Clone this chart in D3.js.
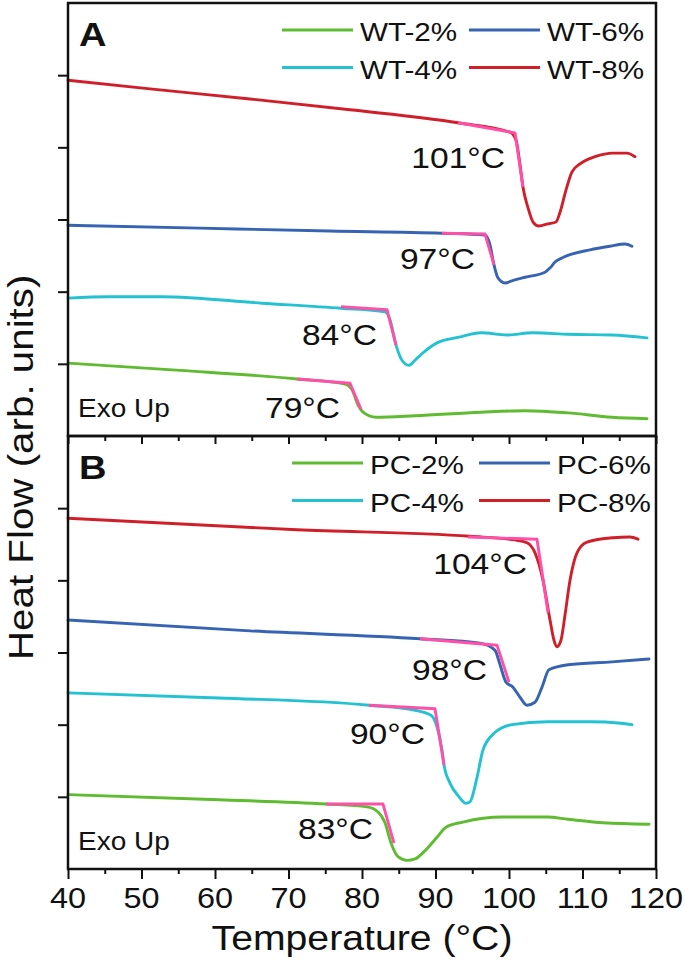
<!DOCTYPE html>
<html><head><meta charset="utf-8">
<script src="https://cdn.jsdelivr.net/npm/d3@7"></script>
<style>
html,body{margin:0;padding:0;background:#fff;}
svg{display:block;}
text{font-family:"Liberation Sans", Arial, Helvetica, sans-serif;fill:#111;}
</style></head><body>
<svg id="chart" width="685" height="965"></svg>
<script>
// ---------- data ----------
const xTicks = [40, 50, 60, 70, 80, 90, 100, 110, 120];
const xMinorTicks = [45, 55, 65, 75, 85, 95, 105, 115];
const yTicks = [1, 2, 3, 4, 5];
const xTitle = "Temperature (°C)";
const yTitle = "Heat Flow (arb. units)";
const panelLetters = ["A", "B"];
const exoLabel = "Exo Up";

const wtNames = ["WT-2%", "WT-4%", "WT-6%", "WT-8%"];
const pcNames = ["PC-2%", "PC-4%", "PC-6%", "PC-8%"];
const wtOnsets = ["79°C", "84°C", "97°C", "101°C"];
const pcOnsets = ["83°C", "90°C", "98°C", "104°C"];

// [temperature °C, heat flow (arb.)]
const wt2 = [[40,1.01],[55.24,0.91],[71.16,0.79],[77.69,0.72],[78.64,0.64],[79.46,0.43],[80.27,0.32],[81.9,0.26],[87.21,0.28],[96.19,0.33],[102.18,0.35],[108.03,0.32],[114.01,0.26],[118.78,0.24]];
const wt4 = [[40,1.91],[45.58,1.93],[52.79,1.93],[66.39,1.84],[77.14,1.77],[83.13,1.72],[83.81,1.61],[84.63,1.26],[85.44,1.05],[86.39,0.98],[87.21,1.05],[88.16,1.14],[90.2,1.29],[93.2,1.37],[96.19,1.43],[99.73,1.40],[103.27,1.43],[108.03,1.41],[114.01,1.40],[118.78,1.36]];
const wt6 = [[40,2.92],[57.96,2.88],[75.65,2.84],[90.88,2.81],[96.73,2.785],[97.41,2.65],[97.96,2.37],[98.5,2.19],[99.46,2.12],[100.4,2.15],[102.18,2.20],[104.9,2.27],[105.6,2.33],[106.26,2.41],[107.48,2.48],[111.02,2.58],[113.74,2.63],[115.78,2.66],[116.73,2.63]];
const wt8 = [[40,4.93],[51.16,4.81],[64.76,4.67],[78.37,4.52],[93.06,4.34],[100.14,4.21],[100.95,4.10],[101.5,3.755],[101.9,3.45],[102.59,3.16],[103.27,2.965],[104.08,2.91],[105.31,2.94],[106.39,2.965],[106.94,3.10],[107.76,3.41],[108.57,3.66],[109.66,3.77],[111.7,3.87],[114.15,3.92],[116.05,3.92],[117.14,3.87]];

const pc2 = [[40,1.03],[60.54,0.96],[75.1,0.90],[80.68,0.86],[82.18,0.79],[83.13,0.64],[83.95,0.36],[84.9,0.17],[86.12,0.12],[87.21,0.14],[88.44,0.24],[90.2,0.44],[91.43,0.58],[93.74,0.65],[99.18,0.72],[105.17,0.72],[108.03,0.69],[112.79,0.64],[119.05,0.62]];
const pc4 = [[40,2.44],[60.54,2.37],[80.95,2.27],[87.21,2.20],[89.39,2.13],[90.2,1.97],[90.88,1.65],[91.16,1.44],[91.97,1.19],[93.2,1.00],[94.15,0.91],[94.69,0.93],[95.65,1.27],[96.46,1.65],[97.96,1.88],[100.41,2.00],[105.17,2.04],[111.02,2.04],[115.24,2.02],[116.73,2.00]];
const pc6 = [[40,3.45],[64.76,3.30],[87.89,3.19],[96.05,3.13],[98.1,3.03],[98.78,2.83],[99.59,2.59],[100.54,2.52],[101.5,2.38],[102.45,2.27],[103.54,2.31],[104.49,2.52],[105.44,2.76],[108.03,2.83],[114.01,2.87],[119.05,2.91]];
const pc8 = [[40,4.86],[71.16,4.70],[94.69,4.61],[100.82,4.56],[102.45,4.52],[103.54,4.38],[104.63,4.00],[105.58,3.45],[106.12,3.17],[106.53,3.08],[107.07,3.17],[107.62,3.52],[108.3,4.00],[109.25,4.38],[110.61,4.53],[114.15,4.59],[116.46,4.60],[117.55,4.57]];

// onset tangent constructions: baseline start, intersection, tangent end
const wt2Tan = [[71.16,0.79],[78.37,0.73],[79.86,0.37]];
const wt4Tan = [[77.14,1.79],[83.4,1.75],[84.63,1.26]];
const wt6Tan = [[90.88,2.81],[96.73,2.80],[97.96,2.37]];
const wt8Tan = [[93.06,4.34],[100.82,4.20],[101.9,3.45]];
const pc2Tan = [[75.1,0.90],[82.86,0.90],[84.35,0.36]];
const pc4Tan = [[80.95,2.27],[89.93,2.22],[91.16,1.44]];
const pc6Tan = [[87.89,3.19],[98.37,3.10],[100.0,2.59]];
const pc8Tan = [[94.42,4.60],[103.81,4.57],[105.31,3.55]];

// ---------- styles ----------
const seriesColors = ["#5fbb30", "#22c2d2", "#3763b3", "#d11f2a"];
const tangentColor = "#ff4fa8";
const sx = 1.12; // horizontal text stretch

// ---------- layout ----------
const svg = d3.select("#chart");
const left = 68, right = 656, panelH = 433;
const panelTops = [3, 436];
const x = d3.scaleLinear().domain([40, 120]).range([left, right]);

const panels = [
  {names: wtNames, series: [wt2, wt4, wt6, wt8], tans: [wt2Tan, wt4Tan, wt6Tan, wt8Tan], onsets: wtOnsets, legX: 282},
  {names: pcNames, series: [pc2, pc4, pc6, pc8], tans: [pc2Tan, pc4Tan, pc6Tan, pc8Tan], onsets: pcOnsets, legX: 292}
];

function stretchedText(g, px, py, str, size, anchor, weight, extra) {
  const gg = g.append("g").attr("transform", `translate(${px},${py})${extra || ""} scale(${sx},1)`);
  return gg.append("text").attr("x", 0).attr("y", 0)
    .attr("font-size", size).attr("text-anchor", anchor || "start")
    .attr("font-weight", weight || "normal").text(str);
}

panels.forEach((p, pi) => {
  const top = panelTops[pi];
  const y = d3.scaleLinear().domain([0, 6]).range([top + panelH, top]);
  const g = svg.append("g");
  const isBottom = pi === panels.length - 1;

  // bottom axis major/minor ticks (outward)
  const ax = g.append("g").attr("transform", `translate(0,${top + panelH})`)
    .call(d3.axisBottom(x).tickValues(xTicks).tickSize(isBottom ? 10 : 8).tickFormat(""));
  ax.select(".domain").remove();
  ax.selectAll("line").attr("stroke", "#111").attr("stroke-width", 2);
  const axm = g.append("g").attr("transform", `translate(0,${top + panelH})`)
    .call(d3.axisBottom(x).tickValues(xMinorTicks).tickSize(5).tickFormat(""));
  axm.select(".domain").remove();
  axm.selectAll("line").attr("stroke", "#111").attr("stroke-width", 2);

  if (isBottom) {
    xTicks.forEach(t => {
      stretchedText(g, x(t), top + panelH + 39, String(t), 29, "middle");
    });
  }

  // left axis ticks (outward)
  const ay = g.append("g").attr("transform", `translate(${left},0)`)
    .call(d3.axisLeft(y).tickValues(yTicks).tickSize(10).tickFormat(""));
  ay.select(".domain").remove();
  ay.selectAll("line").attr("stroke", "#111").attr("stroke-width", 2);

  // curves
  const line = d3.line().x(d => x(d[0])).y(d => y(d[1])).curve(d3.curveMonotoneX);
  p.series.forEach((s, i) => {
    g.append("path").datum(s).attr("d", line).attr("fill", "none")
      .attr("stroke", seriesColors[i]).attr("stroke-width", 2.9)
      .attr("stroke-linejoin", "round").attr("stroke-linecap", "round");
  });
  const tline = d3.line().x(d => x(d[0])).y(d => y(d[1]));
  p.tans.forEach((t) => {
    g.append("path").datum(t).attr("d", tline).attr("fill", "none")
      .attr("stroke", tangentColor).attr("stroke-width", 2.9)
      .attr("stroke-linejoin", "round");
  });
  // onset labels anchored to the tangent intersection
  p.tans.forEach((t, i) => {
    stretchedText(g, x(t[1][0]) - 10, y(t[1][1]) + 35, p.onsets[i], 30, "end");
  });

  // legend: column-major 2x2
  p.names.forEach((n, i) => {
    const col = Math.floor(i / 2), row = i % 2;
    const lx = p.legX + col * 187;
    const ly = top + (row === 0 ? 27 : 64.5);
    g.append("line").attr("x1", lx).attr("x2", lx + 71).attr("y1", ly).attr("y2", ly)
      .attr("stroke", seriesColors[i]).attr("stroke-width", 3);
    stretchedText(g, lx + 78, ly + 11, n, 26.5, "start");
  });

  // panel letter & Exo Up
  stretchedText(g, 79, top + 43, panelLetters[pi], 34, "start", "bold");
  stretchedText(g, 78, top + 414, exoLabel, 25, "start");

  // frame
  g.append("rect").attr("x", left).attr("y", top).attr("width", right - left).attr("height", panelH)
    .attr("fill", "none").attr("stroke", "#111").attr("stroke-width", 2.5);
});

// axis titles
stretchedText(svg, (left + right) / 2, 950, xTitle, 35, "middle");
stretchedText(svg, 33, 660, yTitle, 36, "start", "normal", " rotate(-90)");
</script>
</body></html>
